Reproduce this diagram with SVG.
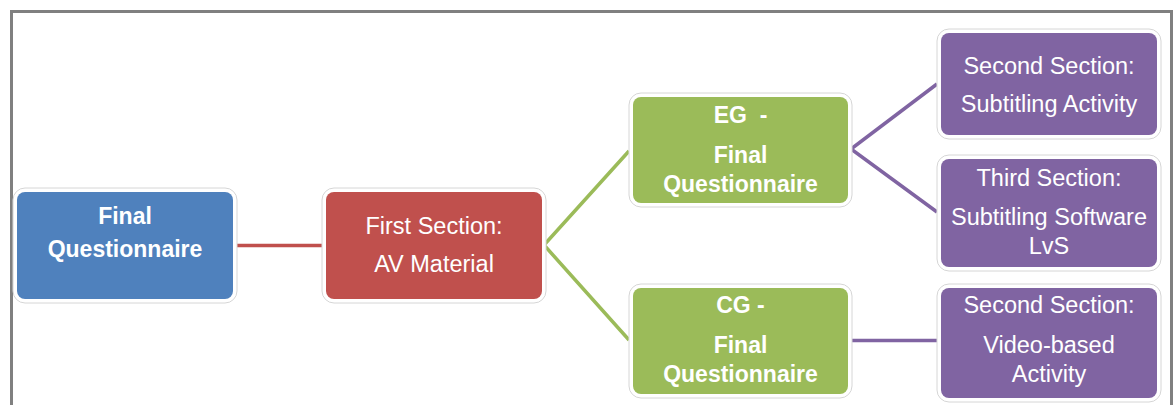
<svg xmlns="http://www.w3.org/2000/svg" width="1174" height="405" viewBox="0 0 1174 405">
<style>
.halo{fill:#ffffff;stroke:#d6d6d6;stroke-width:1}
.blue{fill:#4f81bd}
.red{fill:#c0504d}
.green{fill:#9bbb59}
.purple{fill:#8064a2}
.t{font-family:"Liberation Sans",Arial,sans-serif;fill:#ffffff;text-anchor:middle;font-size:23.5px}
.b{font-weight:bold;font-size:23px}
.c{fill:none;stroke-width:3.5;stroke-linejoin:miter}
</style>
<rect x="11.5" y="11.5" width="1160" height="420" fill="#ffffff" stroke="#808080" stroke-width="3"/>
<g id="connectors">
<path class="c" stroke="#c0504d" stroke-width="4" d="M237 245.5 H322"/>
<path class="c" stroke="#9bbb59" d="M629 151 L544 245 L629 340"/>
<path class="c" stroke="#8064a2" d="M937 84 L851 149 L937 212"/>
<path class="c" stroke="#8064a2" d="M852 340.5 H937"/>
</g>
<g id="node-final">
<rect class="halo" x="13" y="188" width="224" height="115" rx="12"/>
<rect class="blue" x="17" y="192" width="216" height="107" rx="8"/>
<text class="t b" x="125" y="223.5">Final</text>
<text class="t b" x="125" y="256.5">Questionnaire</text>
</g>
<g id="node-first">
<rect class="halo" x="322" y="188" width="224" height="115" rx="12"/>
<rect class="red" x="326" y="192" width="216" height="107" rx="8"/>
<text class="t" x="434" y="234">First Section:</text>
<text class="t" x="434" y="272">AV Material</text>
</g>
<g id="node-eg">
<rect class="halo" x="629" y="93" width="223" height="114" rx="12"/>
<rect class="green" x="633" y="97" width="215" height="106" rx="8"/>
<text class="t b" x="740.5" y="123" style="white-space:pre">EG  -</text>
<text class="t b" x="740.5" y="163">Final</text>
<text class="t b" x="740.5" y="191.5">Questionnaire</text>
</g>
<g id="node-cg">
<rect class="halo" x="629" y="284" width="223" height="114" rx="12"/>
<rect class="green" x="633" y="288" width="215" height="106" rx="8"/>
<text class="t b" x="740.5" y="313">CG -</text>
<text class="t b" x="740.5" y="353">Final</text>
<text class="t b" x="740.5" y="382">Questionnaire</text>
</g>
<g id="node-second-eg">
<rect class="halo" x="937" y="29" width="224" height="110" rx="12"/>
<rect class="purple" x="941" y="33" width="216" height="102" rx="8"/>
<text class="t" x="1049" y="74">Second Section:</text>
<text class="t" x="1049" y="112">Subtitling Activity</text>
</g>
<g id="node-third-eg">
<rect class="halo" x="937" y="155" width="224" height="116" rx="12"/>
<rect class="purple" x="941" y="159" width="216" height="108" rx="8"/>
<text class="t" x="1049" y="186">Third Section:</text>
<text class="t" x="1049" y="225">Subtitling Software</text>
<text class="t" x="1049" y="254">LvS</text>
</g>
<g id="node-second-cg">
<rect class="halo" x="937" y="284" width="224" height="118" rx="12"/>
<rect class="purple" x="941" y="288" width="216" height="110" rx="8"/>
<text class="t" x="1049" y="313">Second Section:</text>
<text class="t" x="1049" y="353">Video-based</text>
<text class="t" x="1049" y="382">Activity</text>
</g>
</svg>
